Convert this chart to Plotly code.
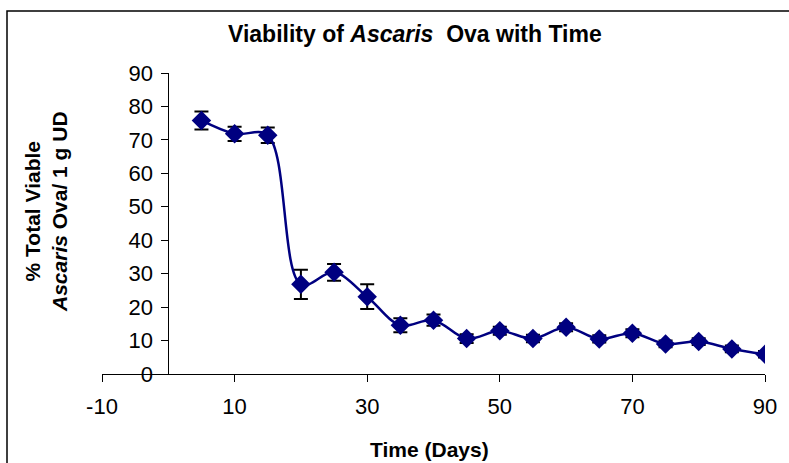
import plotly.graph_objects as go

days = [5, 10, 15, 20, 25, 30, 35, 40, 45, 50, 55, 60, 65, 70, 75, 80, 85, 90]
viable = [75.8, 71.8, 71.4, 26.8, 30.4, 23.1, 14.6, 16.1, 10.6, 12.9, 10.6, 14.0, 10.5, 12.2, 9.0, 9.7, 7.5, 5.9]
err = [2.7, 2.1, 2.3, 4.4, 2.5, 3.7, 2.1, 1.7, 1.3, 1.2, 1.1, 1.2, 1.1, 1.2, 1.0, 1.0, 1.0, 1.0]
x_ticks = [-10, 10, 30, 50, 70, 90]
y_ticks = [0, 10, 20, 30, 40, 50, 60, 70, 80, 90]

W, H = 789, 463
L, R, T, B = 102, 24, 73, 89
pw, ph = W - L - R, H - T - B

def px_x(p):
    return (p - L) / pw

def px_y(p):
    return (H - B - p) / ph

NAVY = "#000080"
FONT = "Liberation Sans, Arial, sans-serif"

fig = go.Figure()
fig.add_trace(go.Scatter(
    x=days, y=viable, mode="markers",
    marker=dict(size=1, color="rgba(0,0,0,0)"),
    error_y=dict(type="data", array=err, visible=True, color="black", thickness=2, width=7),
    hoverinfo="skip", showlegend=False,
))
fig.add_trace(go.Scatter(
    x=days, y=viable, mode="lines+markers",
    line=dict(color=NAVY, width=2.5, shape="spline", smoothing=1.0),
    marker=dict(symbol="diamond", size=15, color=NAVY),
    showlegend=False,
))

fig.update_layout(
    width=W, height=H,
    margin=dict(l=L, r=R, t=T, b=B),
    paper_bgcolor="white", plot_bgcolor="white",
    font=dict(family=FONT, size=22, color="black"),
    xaxis=dict(
        range=[-10, 90], tickvals=x_ticks, ticktext=[str(v) for v in x_ticks],
        showgrid=False, zeroline=False, showline=True, linecolor="black", linewidth=1,
        ticks="outside", ticklen=7, tickcolor="black", tickwidth=1,
        tickfont=dict(size=22), ticklabelstandoff=6,
    ),
    yaxis=dict(
        range=[0, 90], tickvals=y_ticks,
        showgrid=False, zeroline=False, showline=True, linecolor="black", linewidth=1,
        ticks="outside", ticklen=7, tickcolor="black", tickwidth=1,
        tickfont=dict(size=22), anchor="free", position=0.1, ticklabelstandoff=4,
    ),
    shapes=[dict(
        type="rect", xref="paper", yref="paper",
        x0=px_x(7), x1=px_x(800), y0=px_y(475), y1=px_y(11),
        line=dict(color="black", width=1.5), fillcolor="rgba(0,0,0,0)", layer="below",
    )],
    annotations=[
        dict(text="<b>Viability of <i>Ascaris</i>  Ova with Time</b>",
             xref="paper", yref="paper", x=px_x(415), y=px_y(34),
             xanchor="center", yanchor="middle", showarrow=False, font=dict(size=23)),
        dict(text="<b>Time (Days)</b>",
             xref="paper", yref="paper", x=px_x(429), y=px_y(450),
             xanchor="center", yanchor="middle", showarrow=False, font=dict(size=21)),
        dict(text="<b>% Total Viable<br><i>Ascaris</i> Ova/ 1 g UD</b>",
             xref="paper", yref="paper", x=px_x(46), y=px_y(212), textangle=-90,
             xanchor="center", yanchor="middle", showarrow=False, font=dict(size=21)),
    ],
)

fig.write_html("out.html")
